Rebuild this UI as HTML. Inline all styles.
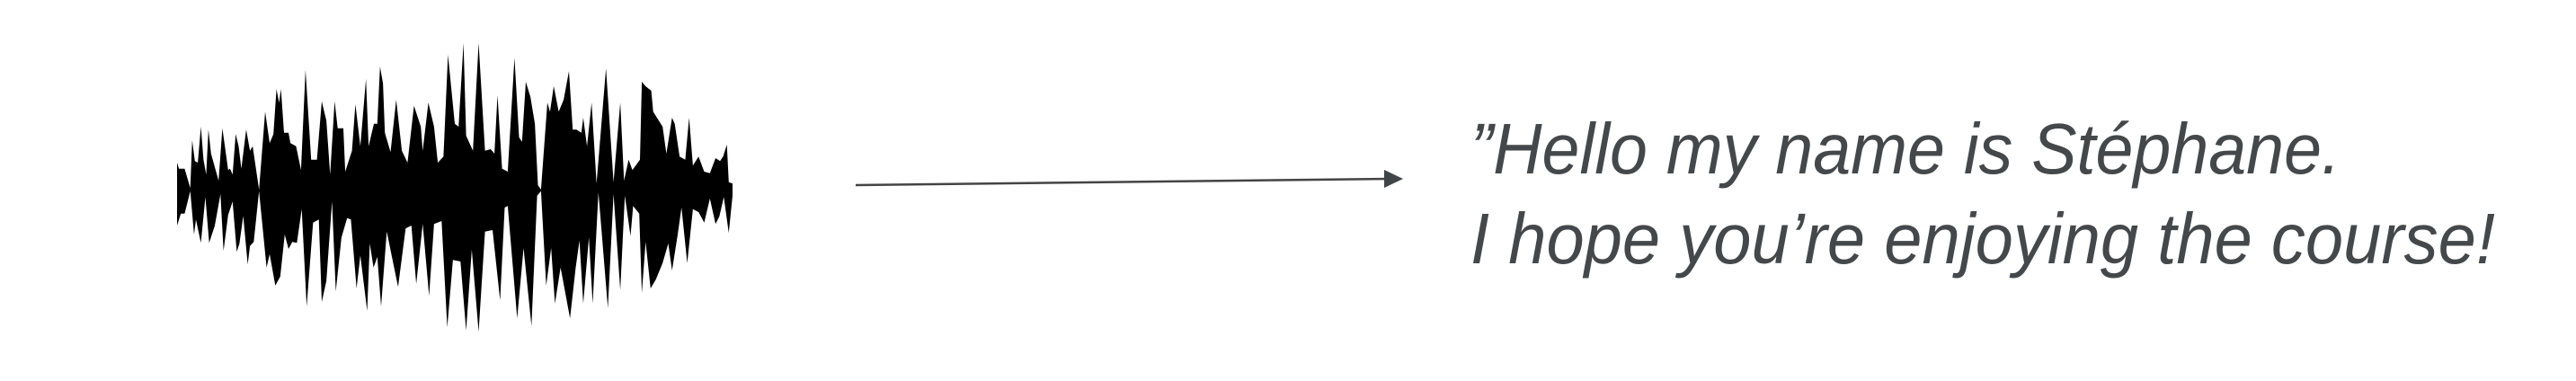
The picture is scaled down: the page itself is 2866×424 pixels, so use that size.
<!DOCTYPE html>
<html>
<head>
<meta charset="utf-8">
<style>
  html,body{margin:0;padding:0;background:#fff;}
  svg{display:block;}
</style>
</head>
<body>
<svg width="2866" height="424" viewBox="0 0 2866 424" xmlns="http://www.w3.org/2000/svg">
  <rect x="0" y="0" width="2866" height="424" fill="#ffffff"/>
  <polygon id="wave" fill="#000000" points=""/>
  <line x1="952" y1="206" x2="1545" y2="199" stroke="#444" stroke-width="2.5"/>
  <polygon points="1540,189 1561,199 1540,209" fill="#404547"/>
  <text x="1636" y="193" font-family="Liberation Sans, sans-serif" font-style="italic" font-size="80" fill="#45484a" textLength="968" lengthAdjust="spacingAndGlyphs">”Hello my name is Stéphane.</text>
  <text x="1636" y="293" font-family="Liberation Sans, sans-serif" font-style="italic" font-size="80" fill="#45484a" textLength="1140" lengthAdjust="spacingAndGlyphs">I hope you’re enjoying the course!</text>
</svg>
<script>
// waveform envelope samples (time position, amplitude)
const topT = [45,50,65,80,85,92,100,108,115,122,128,135,145,155,165,172,180,185,192,200,208,215,228,238,245,262,278,290,300,308,315,320,328,340,345,360,373,385,400,415,428,440,450,462,470,485,490,508,517,530,545,552,566,575,582,590,595,610,625,640,655,672,690,695,710,725,735,750,762,780,790,803,810,828,843,860,875,885,893,905,920,938,950,958,968,980,992,1000,1008,1025,1032,1042,1055,1068,1082,1092,1102,1115,1120,1130,1142,1155,1180,1200,1218,1228,1240,1250,1270,1275,1285,1300,1305,1320,1330,1340,1355,1362,1375,1390,1400,1410,1425,1440,1455,1470,1482,1490,1500,1505,1515];
const topA = [90,70,70,5,165,95,90,210,100,50,200,120,75,30,205,140,65,70,50,185,145,70,200,130,145,0,260,155,185,335,290,335,190,190,155,145,65,400,100,100,295,230,50,295,205,205,60,130,285,145,370,145,220,220,410,355,190,125,300,130,90,280,210,130,290,210,90,110,450,220,210,490,180,130,490,130,135,120,315,70,60,440,175,160,360,310,220,15,0,290,260,345,260,300,395,200,200,190,240,145,290,20,405,25,290,30,100,65,100,360,345,330,260,230,210,120,240,220,110,100,240,80,110,60,55,105,95,110,150,25,20];
const botT = [45,55,65,80,90,95,108,120,130,145,160,168,180,192,203,210,220,232,238,248,262,282,290,305,318,330,340,350,362,375,388,405,420,428,440,455,465,480,495,505,520,530,548,555,565,575,585,600,630,650,665,678,695,712,725,745,760,775,795,810,825,843,860,880,900,912,920,945,962,983,998,1008,1022,1035,1045,1060,1085,1100,1110,1120,1135,1145,1160,1185,1200,1218,1230,1245,1252,1268,1275,1285,1298,1312,1330,1345,1355,1370,1380,1395,1410,1425,1440,1455,1470,1480,1492,1505,1515];
const botA = [120,80,80,5,150,100,178,25,178,120,15,205,85,40,208,180,88,250,188,175,5,260,215,320,290,150,198,175,178,65,390,110,100,375,305,40,340,160,95,100,330,220,405,180,260,225,390,140,325,130,120,315,115,355,115,105,460,235,240,470,200,475,140,135,370,60,55,430,195,455,20,5,320,195,380,260,430,260,170,380,160,380,10,395,15,335,20,155,55,80,345,175,330,300,245,180,270,150,60,245,65,75,110,30,115,90,25,145,20];

const x0 = 197, x1 = 815, tMin = 45, tMax = 1515;
const cy = 211, aScale = 1/3;
function xScale(t){ return x0 + (t - tMin) * (x1 - x0) / (tMax - tMin); }
function yTop(a){ return cy - a * aScale; }
function yBot(a){ return cy + a * aScale; }

const pts = [];
for (let i = 0; i < topT.length; i++) pts.push(xScale(topT[i]).toFixed(1) + ',' + yTop(topA[i]).toFixed(1));
for (let i = botT.length - 1; i >= 0; i--) pts.push(xScale(botT[i]).toFixed(1) + ',' + yBot(botA[i]).toFixed(1));
document.getElementById('wave').setAttribute('points', pts.join(' '));
</script>
</body>
</html>
